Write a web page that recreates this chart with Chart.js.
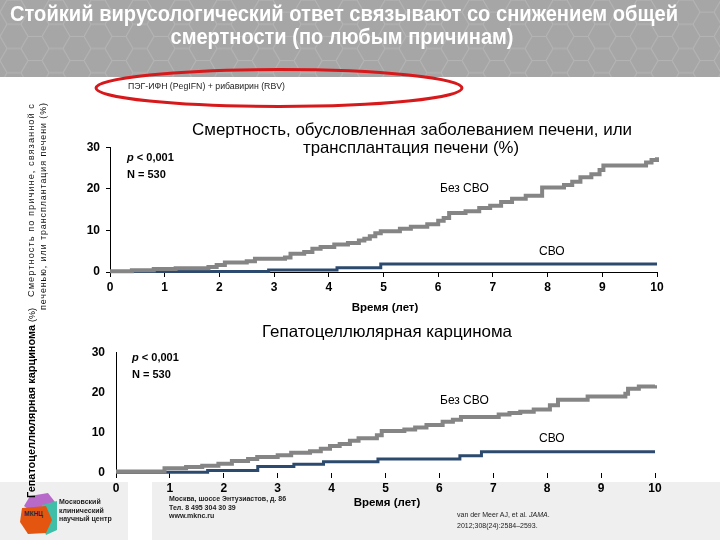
<!DOCTYPE html>
<html><head><meta charset="utf-8">
<script src="https://cdn.jsdelivr.net/npm/chart.js@4.4.1/dist/chart.umd.min.js"></script>
<style>
html,body{margin:0;padding:0;width:720px;height:540px;overflow:hidden;background:#fff;font-family:"Liberation Sans",Arial,sans-serif;}
#stage{position:relative;width:720px;height:540px;overflow:hidden;}
.t{position:absolute;white-space:nowrap;line-height:1;}
canvas{position:absolute;}
</style></head><body>
<div id="stage">
  <svg width="720" height="77" style="position:absolute;left:0;top:0">
    <defs><pattern id="hex" width="42" height="24.25" patternUnits="userSpaceOnUse">
      <path d="M0,12.12 L7,0 L21,0 L28,12.12 L21,24.25 L7,24.25 Z M28,12.12 L42,12.12" fill="none" stroke="#b5b5b5" stroke-width="1"/>
    </pattern></defs>
    <rect width="720" height="77" fill="#a6a6a6"/>
    <rect width="720" height="77" fill="url(#hex)"/>
  </svg>
  <div style="position:absolute;left:0;top:482px;width:128px;height:58px;background:#efefef"></div>
  <div style="position:absolute;left:152px;top:482px;width:568px;height:58px;background:#efefef"></div>
  <svg width="60" height="50" style="position:absolute;left:0;top:488px">
    <polygon points="30,8 48,5 55,14 52,24 35,26 24,18" fill="#b86ac9"/>
    <polygon points="42,17 57,13 57,42 46,47 40,32" fill="#3fbfa8"/>
    <polygon points="22,20 46,18 52,32 46,45 28,46 20,34" fill="#e4560f"/>
    <text x="24" y="28" font-size="6.5" font-weight="bold" fill="#1c2a4a" font-family="Liberation Sans, Arial">МКНЦ</text>
  </svg>
  <canvas id="c1" width="607" height="183" style="left:60px;top:134px;width:607px;height:183px"></canvas>
  <canvas id="c2" width="599" height="184" style="left:66px;top:334px;width:599px;height:184px"></canvas>
  <svg width="720" height="540" style="position:absolute;left:0;top:0;pointer-events:none">
    <ellipse cx="279" cy="88" rx="183" ry="18.5" fill="none" stroke="#d7191c" stroke-width="3"/>
  </svg>
  <div id="texts"></div>
</div>
<script>
// ---- data ----
const xTickValues = [0,1,2,3,4,5,6,7,8,9,10];
const yTickValues = [0,10,20,30];
const seriesNames = ['Без СВО','СВО'];

const liverNoSvrT = [0,0.4,0.8,1.2,1.8,1.95,2.1,2.5,2.65,3.2,3.3,3.55,3.7,3.85,4.1,4.35,4.55,4.65,4.75,4.85,4.95,5.3,5.5,5.8,6.0,6.1,6.2,6.5,6.75,6.95,7.15,7.35,7.6,7.9,8.3,8.45,8.6,8.8,8.95,9.02,9.8,9.9,10];
const liverNoSvrV = [0.2,0.4,0.7,0.9,1.2,1.7,2.3,2.6,3.2,3.5,4.4,4.8,5.6,6.0,6.6,7.0,7.6,8.0,8.6,9.3,9.8,10.4,10.9,11.5,12.3,13.0,14.2,14.6,15.4,15.9,16.8,17.6,18.3,20.3,20.9,21.7,22.8,23.5,24.5,25.6,26.3,26.9,27.6];
const liverSvrT = [0,2.9,4.15,4.95,10];
const liverSvrV = [0.1,0.5,1.0,1.9,1.9];

const hccNoSvrT = [0,0.9,1.3,1.6,1.9,2.15,2.45,2.62,3.0,3.25,3.6,3.8,3.97,4.15,4.34,4.5,4.84,4.93,5.35,5.55,5.76,6.06,6.25,6.4,7.1,7.3,7.5,7.75,8.05,8.2,8.75,9.45,9.5,9.7,10];
const hccNoSvrV = [0.4,1.2,1.5,1.8,2.3,3.0,3.5,4.0,4.4,5.0,5.4,6.0,6.7,7.2,8.0,8.6,9.4,10.4,10.8,11.3,11.9,12.7,13.2,13.9,14.5,14.9,15.2,15.8,16.8,18.2,19.0,19.7,20.9,21.5,21.8];
const hccSvrT = [0,1.7,2.63,3.3,3.85,4.86,6.38,6.78,10];
const hccSvrV = [0.2,0.6,1.6,2.2,2.8,3.5,4.3,5.3,5.3];

Chart.defaults.font.family = '"Liberation Sans", Arial, sans-serif';
const GRAY = '#858585', BLUE = '#2c4a6e';

function pts(t, v){ return t.map((x,i)=>({x:x, y:v[i]})); }

function makeChart(id, noT, noV, svT, svV, o){
  return new Chart(document.getElementById(id), {
    type:'line',
    data:{datasets:[
      {label:seriesNames[0], data:pts(noT,noV), borderColor:GRAY, borderWidth:4, stepped:true, pointRadius:0, fill:false, clip:false},
      {label:seriesNames[1], data:pts(svT,svV), borderColor:BLUE, borderWidth:3, stepped:true, pointRadius:0, fill:false, clip:false}
    ]},
    options:{
      responsive:false, animation:false,
      layout:{padding:{top:10,right:10,left:0,bottom:0}},
      plugins:{legend:{display:false}, tooltip:{enabled:false}},
      scales:{
        x:{type:'linear', min:0, max:10,
           afterBuildTicks:s=>{s.ticks = xTickValues.map(v=>({value:v}));},
           ticks:{color:'#000', font:{weight:'bold', size:12}, padding:3, maxRotation:0, autoSkip:false},
           grid:{drawOnChartArea:false, drawTicks:true, tickLength:5, color:'#000', tickColor:'#000'},
           border:{display:o.xBorder, color:'#000', width:1},
           afterFit:s=>{s.height=45;}},
        y:{type:'linear', min:0, max:30,
           afterBuildTicks:s=>{s.ticks = yTickValues.map(v=>({value:v}));},
           ticks:{color:'#000', font:{weight:'bold', size:12}, padding:o.yPad},
           grid:{drawOnChartArea:false, drawTicks:o.yTicks, tickLength:4, color:'#000', tickColor:'#000'},
           border:{display:true, color:'#000', width:1},
           afterFit:s=>{s.width=50;}}
      }
    }
  });
}
makeChart('c1', liverNoSvrT, liverNoSvrV, liverSvrT, liverSvrV, {xBorder:true, yTicks:true, yPad:6});
makeChart('c2', hccNoSvrT, hccNoSvrV, hccSvrT, hccSvrV, {xBorder:false, yTicks:false, yPad:11});

// ---- text ----
const box = document.getElementById('texts');
function txt(html, x, y, css, align, fitW, rot){
  const d = document.createElement('div');
  d.className='t'; d.innerHTML = html;
  d.style.cssText += css;
  box.appendChild(d);
  let sx = 1;
  if (fitW){ sx = fitW / d.getBoundingClientRect().width; }
  d.style.left = x+'px'; d.style.top = y+'px';
  if (rot){
    d.style.transform = 'translate(-50%,-50%) rotate(-90deg) scaleX('+sx+')';
  } else if (align==='c'){
    d.style.transform = 'translate(-50%,-50%) scaleX('+sx+')';
  } else {
    d.style.transformOrigin = 'left center';
    d.style.transform = 'translateY(-50%) scaleX('+sx+')';
  }
  return d;
}
const W = 'color:#fff;font-weight:bold;font-size:22px;';
txt('Стойкий вирусологический ответ связывают со снижением общей', 344, 14, W, 'c', 668);
txt('смертности (по любым причинам)', 342, 37, W, 'c', 343);
txt('ПЭГ-ИФН (PegIFN) + рибавирин (RBV)', 128, 86, 'font-size:8.5px;color:#222;', 'l', 157);

txt('Смертность, обусловленная заболеванием печени, или', 412, 129, 'font-size:16.5px;color:#000;', 'c', 440);
txt('трансплантация печени (%)', 411, 147, 'font-size:16.5px;color:#000;', 'c', 216);
txt('<i>p</i> &lt; 0,001', 127, 157, 'font-size:11px;font-weight:bold;', 'l');
txt('N = 530', 127, 174, 'font-size:11px;font-weight:bold;', 'l');
txt(seriesNames[0], 440, 188, 'font-size:12px;', 'l');
txt(seriesNames[1], 539, 251, 'font-size:12px;', 'l');
txt('Время (лет)', 385, 308, 'font-size:11.5px;font-weight:bold;', 'c');

txt('Гепатоцеллюлярная карцинома', 387, 331, 'font-size:16.5px;color:#000;', 'c', 250);
txt('<i>p</i> &lt; 0,001', 132, 357, 'font-size:11px;font-weight:bold;', 'l');
txt('N = 530', 132, 374, 'font-size:11px;font-weight:bold;', 'l');
txt(seriesNames[0], 440, 400, 'font-size:12px;', 'l');
txt(seriesNames[1], 539, 438, 'font-size:12px;', 'l');
txt('Время (лет)', 387, 503, 'font-size:11.5px;font-weight:bold;', 'c');

txt('Смертность по причине, связанной с', 30.5, 200, 'font-size:9px;letter-spacing:1px;color:#111;', 'c', 194, true);
txt('печенью, или трансплантация печени (%)', 43, 206, 'font-size:9px;letter-spacing:1px;color:#111;', 'c', 208, true);
txt('<b>Гепатоцеллюлярная карцинома</b> <span style="font-size:9px">(%)</span>', 31, 403, 'font-size:11px;color:#000;', 'c', 190, true);

const F = 'font-size:7px;font-weight:bold;color:#222;line-height:8.5px;';
txt('Московский<br>клинический<br>научный центр', 59, 511, F, 'l');
txt('Москва, шоссе Энтузиастов, д. 86<br>Тел. 8 495 304 30 39<br>www.mknc.ru', 169, 508, F, 'l');
txt('van der Meer AJ, et al. <i>JAMA</i>.<br>2012;308(24):2584–2593.', 457, 520, 'font-size:7px;color:#222;line-height:11px;', 'l');
</script>
</body></html>
